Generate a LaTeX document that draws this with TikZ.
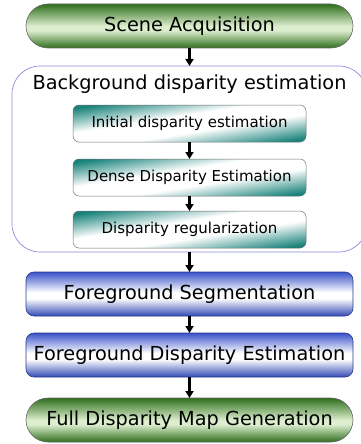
\documentclass[tikz,border=0pt]{standalone}
\usepackage{fontspec}
\setmainfont{DejaVu Sans}
\usetikzlibrary{arrows.meta}
\definecolor{pillgreen}{RGB}{46,110,28}
\definecolor{pilllight}{RGB}{220,238,206}
\definecolor{tealbox}{RGB}{24,130,122}
\definecolor{bluebox}{RGB}{56,82,200}
\definecolor{lavender}{RGB}{140,140,220}
% teal fade: corners coloured, wide white middle
\pgfdeclareverticalshading{tealfade}{100bp}{color(0bp)=(tealbox); color(24bp)=(tealbox); color(43bp)=(white); color(57bp)=(white); color(76bp)=(tealbox); color(100bp)=(tealbox)}
\pgfdeclareverticalshading{bluefade}{100bp}{color(0bp)=(bluebox!90!black); color(25bp)=(bluebox!90!black); color(45bp)=(white); color(52bp)=(white); color(75bp)=(bluebox); color(100bp)=(bluebox)}
\pgfdeclareverticalshading{greenfade}{100bp}{color(0bp)=(pillgreen); color(25bp)=(pillgreen); color(45bp)=(pilllight); color(50bp)=(pilllight); color(75bp)=(pillgreen); color(100bp)=(pillgreen)}

\begin{document}
\begin{tikzpicture}[x=1pt, y=-1pt, every node/.style={inner sep=0pt, outer sep=0pt, font=\fontsize{19.3}{23}\selectfont},
	pill/.style={draw=black!60, line width=0.6pt, rounded corners=22pt, minimum width=327pt, minimum height=44pt, shading=greenfade},
	sub/.style={draw=black!55, line width=0.5pt, rounded corners=6pt, minimum width=233pt, minimum height=37pt, shading=tealfade, shading angle=9, font=\fontsize{15}{18}\selectfont},
	fg/.style={draw=bluebox!70!black, line width=0.6pt, rounded corners=8pt, minimum width=327pt, minimum height=44pt, shading=bluefade},
	flow/.style={-{Triangle[length=7pt, width=8pt]}, line width=2.2pt}]
	\useasboundingbox (0,0) rectangle (360,444);
	\node[pill] (scene) at (189.5,26) {Scene Acquisition};
	\node[draw=lavender, line width=0.7pt, rounded corners=28pt, minimum width=355pt, minimum height=186pt] (bgbox) at (189.5,159) {};
	\node (bgtitle) at (189.5,84) {Background disparity estimation};
	\node[sub] (init) at (189.5,123.5) {Initial disparity estimation};
	\node[sub] (dense) at (189.5,177.5) {Dense Disparity Estimation};
	\node[sub] (reg) at (189.5,229.5) {Disparity regularization};
	\node[fg] (fgseg) at (189.5,294) {Foreground Segmentation};
	\node[fg] (fgdisp) at (189.5,355) {Foreground Disparity Estimation};
	\node[pill] (full) at (189.5,420) {Full Disparity Map Generation};
	\foreach \a/\b in {scene/bgbox, init/dense, dense/reg, bgbox/fgseg, fgseg/fgdisp, fgdisp/full} {\draw[flow] (\a) -- (\b);}
\end{tikzpicture}
\end{document}
